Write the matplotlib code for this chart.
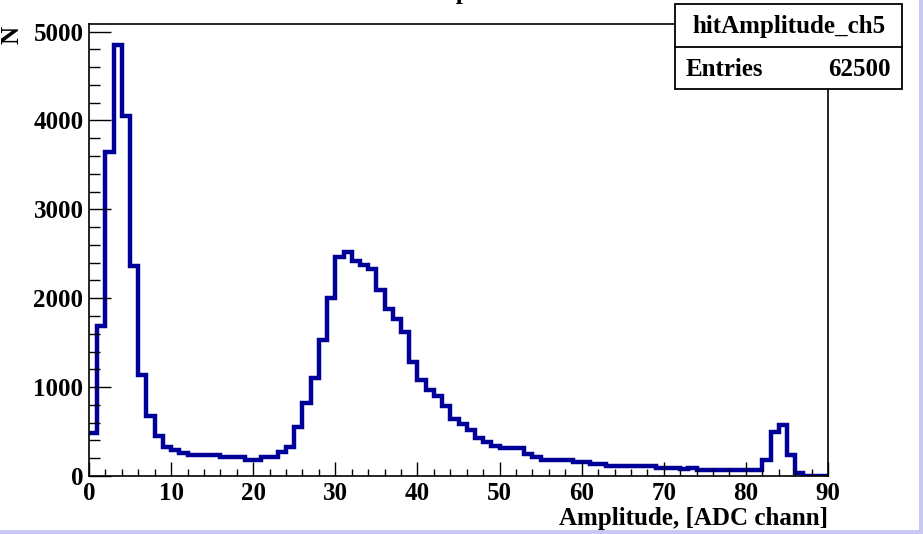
import numpy as np
import matplotlib
matplotlib.use("Agg")
import matplotlib.pyplot as plt
from matplotlib.patches import Rectangle
from matplotlib.ticker import MultipleLocator

# bin contents of hitAmplitude_ch5, 90 bins of width 1 from 0 to 90
counts = [480, 1690, 3650, 4850, 4050, 2360, 1140, 670, 455, 325,
          295, 255, 240, 237, 237, 235, 215, 210, 210, 180,
          185, 215, 218, 274, 330, 556, 820, 1103, 1535, 2005,
          2468, 2520, 2420, 2370, 2333, 2091, 1874, 1761, 1618, 1279,
          1083, 970, 900, 782, 640, 587, 512, 426, 387, 339,
          312, 312, 312, 248, 218, 181, 181, 181, 181, 162,
          162, 135, 135, 113, 113, 113, 113, 113, 110, 87,
          87, 87, 80, 95, 68, 68, 68, 68, 68, 68,
          68, 68, 180, 490, 576, 237, 38, 5, 5, 5]
bin_edges = np.arange(0, 91)

hist_name = "hitAmplitude_ch5"
entries = 62500
x_title = "Amplitude, [ADC chann]"
y_title = "N"

W, H = 923, 534
font = {"family": "Liberation Serif", "weight": "bold", "size": 18}

fig = plt.figure(figsize=(W / 100, H / 100), dpi=100)
ax = fig.add_axes([89 / W, 58 / H, 739 / W, 452 / H])

ax.stairs(counts, bin_edges, color="#000099", lw=3.2, baseline=None)

ax.set_xlim(0, 90)
ax.set_ylim(0, 5085)
ax.xaxis.set_major_locator(MultipleLocator(10))
ax.xaxis.set_minor_locator(MultipleLocator(2))
ax.yaxis.set_major_locator(MultipleLocator(1000))
ax.yaxis.set_minor_locator(MultipleLocator(200))

ax.tick_params(axis="x", which="major", direction="in", length=10, width=1, pad=4)
ax.tick_params(axis="x", which="minor", direction="in", length=5, width=1)
ax.tick_params(axis="y", which="major", direction="in", length=16, width=1, pad=4)
ax.tick_params(axis="y", which="minor", direction="in", length=8, width=1)
for lab in ax.get_xticklabels() + ax.get_yticklabels():
    lab.set_fontfamily(font["family"])
    lab.set_fontweight("bold")
    lab.set_fontsize(font["size"])
for sp in ax.spines.values():
    sp.set_linewidth(1.2)

# axis titles, ROOT style
fig.text(828 / W, 1 - 525 / H, x_title, ha="right", va="baseline", **font)
fig.text(12 / W, 1 - 26 / H, y_title, rotation=90, ha="center", va="top", **font)

# histogram title, cut off at the top of the screenshot (only a descender shows)
fig.text(418 / W, 1 + 0.5 / H, "Amplitude", ha="left", va="baseline", **font)

# stats box
bx0, bx1, by0, by1, bmid = 675, 902, 4, 89, 47
fig.patches.append(Rectangle((bx0 / W, 1 - by1 / H), (bx1 - bx0) / W, (by1 - by0) / H,
                             transform=fig.transFigure, facecolor="white",
                             edgecolor="black", lw=1.3, zorder=5))
fig.lines.append(plt.Line2D([bx0 / W, bx1 / W], [1 - bmid / H, 1 - bmid / H],
                            transform=fig.transFigure, color="black", lw=1.3, zorder=6))
fig.text((bx0 + bx1) / 2 / W, 1 - 26 / H, hist_name, ha="center", va="center", zorder=7, **font)
fig.text(686 / W, 1 - 69 / H, "Entries", ha="left", va="center", zorder=7, **font)
fig.text(891 / W, 1 - 69 / H, str(entries), ha="right", va="center", zorder=7, **font)

# window border of the screenshot
fig.patches.append(Rectangle((919 / W, 0), 4 / W, 1, transform=fig.transFigure,
                             facecolor="#c8c8f0", edgecolor="none", zorder=8))
fig.patches.append(Rectangle((0, 0), 1, 4 / H, transform=fig.transFigure,
                             facecolor="#c8c8f0", edgecolor="none", zorder=8))

fig.savefig("out.png", dpi=100)
